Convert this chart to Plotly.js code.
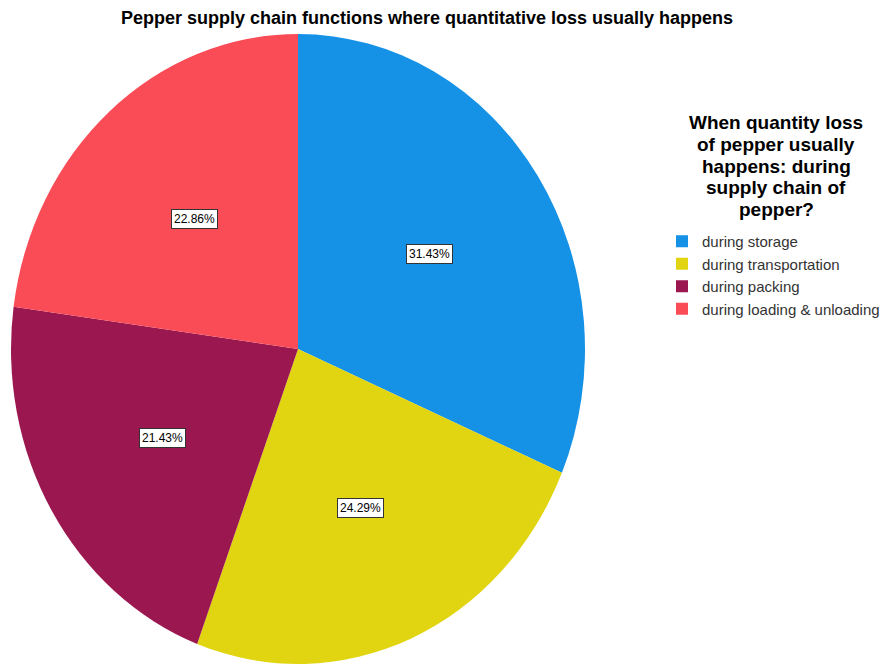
<!DOCTYPE html>
<html>
<head>
<meta charset="utf-8">
<script src="https://cdn.plot.ly/plotly-3.0.1.min.js"></script>
<style>html,body{margin:0;padding:0;background:#fff;}#chart{width:887px;height:664px;}</style>
</head>
<body>
<div id="chart"></div>
<script>
// Data
const categories = ['during storage', 'during transportation', 'during packing', 'during loading & unloading'];
const percents = [31.43, 24.29, 21.43, 22.86];
const percentLabels = ['31.43%', '24.29%', '21.43%', '22.86%'];
const chartTitle = 'Pepper supply chain functions where quantitative loss usually happens';
const legendTitleLines = ['When quantity loss', 'of pepper usually', 'happens: during', 'supply chain of', 'pepper?'];

// Styles / geometry
const sliceColors = ['#1591E6', '#E1D512', '#9B174F', '#FA4C56'];
const W = 887, H = 664;
const CX = 298, CY = 349, R = 287, RY = 315, K = 0.55;
const FONT = 'Liberation Sans, Arial, sans-serif';
const LT_X = 776, LT_Y0 = 123, LT_DY = 21.6;

const total = percents.reduce((a, b) => a + b, 0);
let cum = 0;
const annotations = percents.map((v, i) => {
  const mid = (cum + v / 2) / total;
  cum += v;
  const th = 2 * Math.PI * mid;
  const px = CX + K * R * Math.sin(th);
  const py = CY - K * RY * Math.cos(th);
  return {
    x: px / W, y: (H - py) / H, xref: 'paper', yref: 'paper',
    xanchor: 'center', yanchor: 'middle', showarrow: false,
    text: percentLabels[i],
    font: {family: FONT, size: 12, color: '#000'},
    bgcolor: '#fff', bordercolor: '#333', borderwidth: 1, borderpad: 2
  };
});

legendTitleLines.forEach((line, i) => {
  annotations.push({
    x: LT_X / W, y: (H - (LT_Y0 + i * LT_DY)) / H, xref: 'paper', yref: 'paper',
    xanchor: 'center', yanchor: 'middle', showarrow: false,
    text: '<b>' + line + '</b>',
    font: {family: FONT, size: 19, color: '#000'}
  });
});

const trace = {
  type: 'pie',
  labels: categories,
  values: percents,
  sort: false,
  direction: 'clockwise',
  rotation: 0,
  textinfo: 'none',
  hoverinfo: 'label+percent',
  marker: {colors: sliceColors, line: {width: 0}},
  domain: {x: [(CX - R) / W, (CX + R) / W], y: [(H - CY - R) / H, (H - CY + R) / H]}
};

const layout = {
  width: W, height: H,
  margin: {l: 0, r: 0, t: 0, b: 0},
  paper_bgcolor: '#fff',
  font: {family: FONT},
  title: {
    text: '<b>' + chartTitle + '</b>',
    x: 427 / W, xanchor: 'center', xref: 'paper',
    y: 1 - 18 / H, yanchor: 'middle', yref: 'container',
    font: {family: FONT, size: 18, color: '#000'}
  },
  showlegend: true,
  legend: {
    x: 662 / W, xanchor: 'left', y: (H - 225) / H, yanchor: 'top',
    bgcolor: 'rgba(0,0,0,0)',
    font: {family: FONT, size: 15, color: '#333'}
  },
  annotations: annotations
};

Plotly.newPlot('chart', [trace], layout, {displayModeBar: false, staticPlot: true}).then(gd => {
  const layer = gd.querySelector('.pielayer');
  if (layer) {
    layer.setAttribute('transform', 'translate(0,' + CY + ') scale(1,' + (RY / R) + ') translate(0,' + (-CY) + ')');
  }
});
</script>
</body>
</html>
